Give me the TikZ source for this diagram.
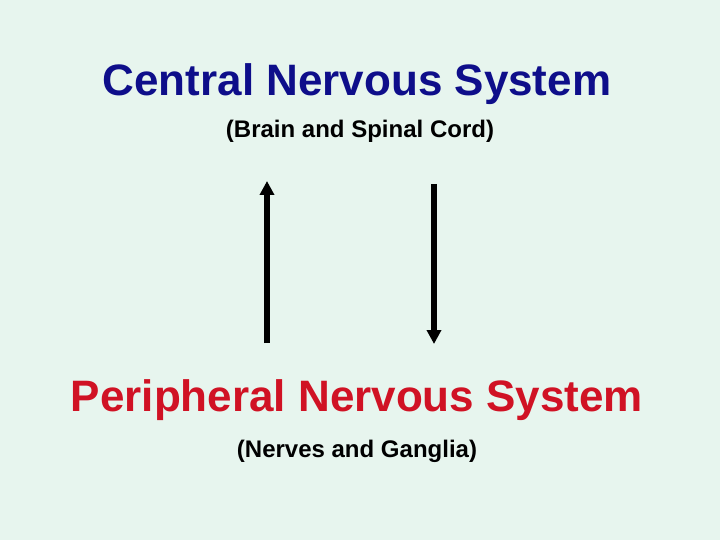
\documentclass[tikz,border=0pt]{standalone}
\usepackage{fontspec}
\setmainfont{Liberation Sans}
\usetikzlibrary{arrows.meta,positioning}
\definecolor{slidebg}{RGB}{231,245,238}
\definecolor{cnsblue}{RGB}{14,14,138}
\definecolor{pnsred}{RGB}{208,18,36}

\begin{document}
\begin{tikzpicture}[
    x=1pt, y=-1pt,
    every node/.style={inner sep=0pt, anchor=base},
    heading/.style={font=\fontsize{44}{50}\selectfont\bfseries},
    subhead/.style={font=\fontsize{24}{28}\selectfont\bfseries, text=black},
    nerve/.style={-{Triangle[length=14pt, width=14pt]}, line width=6pt, black}
]
\fill[slidebg] (0,0) rectangle (720,540);
\useasboundingbox (0,0) rectangle (720,540);
\node[heading, text=cnsblue] (cns) at (357,96) {Central Nervous System};
\node[subhead] (cnsparts) at (360,138) {(Brain and Spinal Cord)};
\node[heading, text=pnsred] (pns) at (357,411) {Peripheral Nervous System};
\node[subhead] (pnsparts) at (357,457) {(Nerves and Ganglia)};
\coordinate (afferent) at (267,343);
\coordinate (afferent-end) at (267,181);
\coordinate (efferent) at (434,184);
\coordinate (efferent-end) at (434,344);
\draw[nerve] (afferent) -- (afferent-end);
\draw[nerve] (efferent) -- (efferent-end);
\end{tikzpicture}
\end{document}
